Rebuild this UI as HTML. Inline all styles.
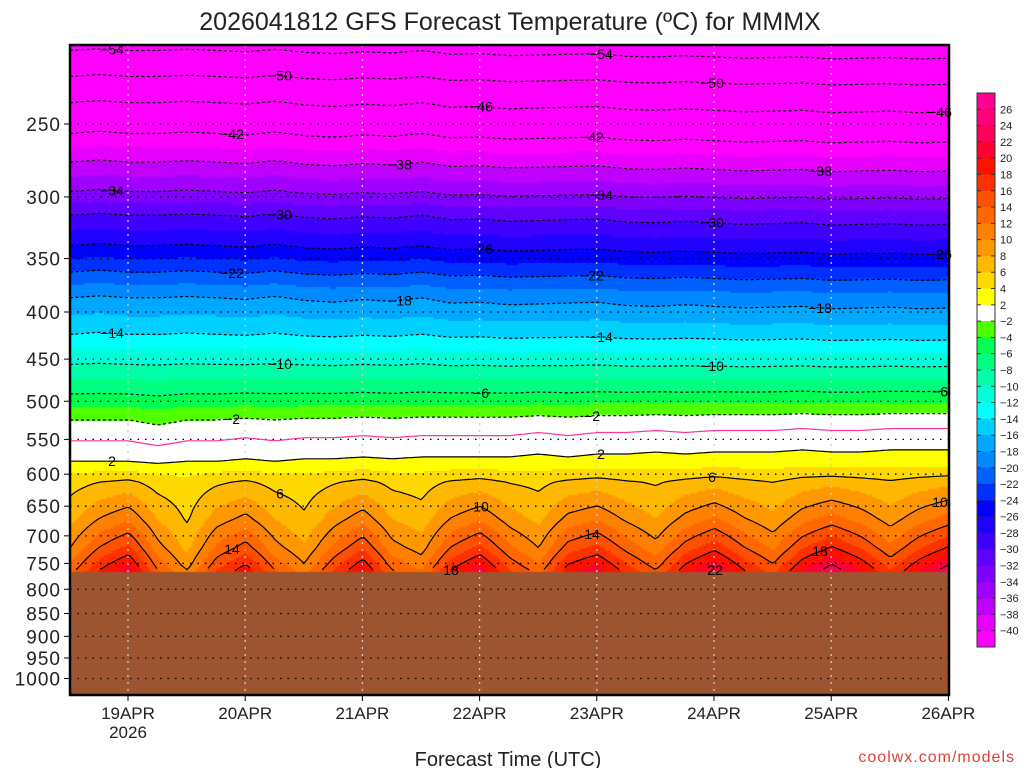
<!DOCTYPE html>
<html><head><meta charset="utf-8">
<style>
html,body{margin:0;padding:0;background:#fff;}
body{width:1024px;height:768px;position:relative;overflow:hidden;font-family:"Liberation Sans",sans-serif;}
#fill{position:absolute;left:0;top:0;}
#ov{position:absolute;left:0;top:0;}
</style></head>
<body>
<canvas id="fill" width="1024" height="768"></canvas>
<svg id="ov" width="1024" height="768" font-family="Liberation Sans, sans-serif">
<text x="510" y="30" font-size="25" text-anchor="middle" fill="#222">2026041812 GFS Forecast Temperature (ºC) for MMMX</text>
<g id="grid"></g>
<g id="cont"></g>
<g id="axes"></g>
<g id="cbar"></g>
<text x="508" y="766" font-size="20" text-anchor="middle" fill="#222">Forecast Time (UTC)</text>
<text x="1015" y="762" font-size="16" text-anchor="end" fill="#e0403a" letter-spacing="1">coolwx.com/models</text>
</svg>
<script>
// data
const pressureTicks=[250,300,350,400,450,500,550,600,650,700,750,800,850,900,950,1000];
const dayLabels=['19APR','20APR','21APR','22APR','23APR','24APR','25APR','26APR'];
const profileP=[200,208,222,237,256,275,296,314,339,362,386,423,456,491,524,552,581,612,670,720,762,790];
const profileT=[-57,-54,-50,-46,-42,-38,-34,-30,-26,-22,-18,-14,-10,-6,-2,0,2,6,10,14,18,20];
// 6-hourly from 18/12Z to 26/00Z
const lowOffset=[-5,0,3,-4,-8,-2,1,-4,-7,-2,2,-4,-6,0,3,-2,-5,1,3,-1,-4,1,4,0,-3,2,5,2,-2,2,5];
const midOffset=[0,0,0,-0.5,0,0,0.3,0,0.3,0.3,0.5,0.3,0.5,0.5,0.5,0.5,0.8,0.5,0.8,0.8,1,0.8,1,1,1,1.2,1,1,1.2,1.2,1.2];
const upperOffset=[0,0.3,0,0,0.2,0,-0.2,0.2,-0.3,-0.5,-0.2,-0.4,0,-0.6,-0.5,-0.8,-0.7,-0.6,-0.5,-0.9,-1,-0.8,-1,-1.2,-1.1,-1,-1.3,-1.2,-1.1,-1.3,-1.2];
const cbLabels=[26,24,22,20,18,16,14,12,10,8,6,4,2,-2,-4,-6,-8,-10,-12,-14,-16,-18,-20,-22,-24,-26,-28,-30,-32,-34,-36,-38,-40];
const cbColors=['#ff0090','#ff0078','#ff005a','#ff0030','#ff1000','#ff3000','#ff5000','#ff6800','#ff8000','#ff9800','#ffb800','#ffd800','#ffff00','#ffffff','#50ff00','#00ff50','#00ff80','#00ffa8','#00ffd8','#00ffff','#00d0ff','#00a8ff','#0088ff','#0060ff','#0030ff','#0000ff','#2000ff','#4000ff','#6000ff','#8000ff','#a000ff','#c000ff','#e800ff','#ff00ff'];
const contourLevels=[-54,-50,-46,-42,-38,-34,-30,-26,-22,-18,-14,-10,-6,-2,0,2,6,10,14,18,22];

const X0=70,X1=949,Y0=45,Y1=695,GROUND=572,DAYPX=117.2;
const NS='http://www.w3.org/2000/svg';
function yOfP(p){return 124+400*Math.log(p/250);}
function pOfY(y){return 250*Math.exp((y-124)/400);}
function xOfDay(i){return 128+i*DAYPX;}
function interpArr(a,t){t=Math.max(0,Math.min(a.length-1,t));const i=Math.floor(t),f=t-i;return i>=a.length-1?a[a.length-1]:a[i]*(1-f)+a[i+1]*f;}
function baseT(p){const lp=Math.log(p);
  for(let i=0;i<profileP.length-1;i++){const a=Math.log(profileP[i]),b=Math.log(profileP[i+1]);
    if(lp<=b||i==profileP.length-2){const f=(lp-a)/(b-a);return profileT[i]+f*(profileT[i+1]-profileT[i]);}}}
function temp(x,y){const t=(x-X0)/DAYPX*4;
  const wl=Math.max(0,Math.min(1,(y-465)/100));
  const wm=Math.exp(-Math.pow((y-435)/55,2));
  const wu=Math.max(0,Math.min(1,(420-y)/120));
  return baseT(pOfY(y))+interpArr(lowOffset,t)*wl+interpArr(midOffset,t)*wm+interpArr(upperOffset,t)*wu;}
function colorFor(T){
  if(T>=26)return cbColors[0];
  if(T>=-2&&T<2)return cbColors[13];
  if(T>=2){const k=Math.floor((26-T)/2);return cbColors[1+Math.min(11,k)];}
  const k=Math.floor((-2-T)/2);return cbColors[Math.min(33,14+k)];}
// fill
const ctx=document.getElementById('fill').getContext('2d');
for(let x=X0;x<X1;x+=2){for(let y=Y0;y<GROUND;y+=2){ctx.fillStyle=colorFor(temp(x+1,y+1));ctx.fillRect(x,y,2,2);}}
ctx.fillStyle='#9c5530';ctx.fillRect(X0,GROUND,X1-X0,Y1-GROUND);
function el(tag,attrs,parent){const e=document.createElementNS(NS,tag);for(const k in attrs)e.setAttribute(k,attrs[k]);parent.appendChild(e);return e;}
// grid
const grid=document.getElementById('grid');
pressureTicks.forEach(p=>{const y=yOfP(p);
  const l=el('line',{x1:X0,x2:X1,y1:y,y2:y,stroke:'#000','stroke-width':1.3,'stroke-dasharray':'1.5 6'},grid);
  
  });
dayLabels.forEach((d,i)=>{const x=xOfDay(i);
  const l=el('line',{x1:x,x2:x,y1:Y0,y2:Y1,stroke:'#ccc','stroke-width':1.3,'stroke-dasharray':'2 5'},grid);
  
  });
// contours
const cont=document.getElementById('cont');
const labelXs=[110,280,480,590,820];
contourLevels.forEach((lv,li)=>{
  let d='',pen=false;const pts=[];
  for(let x=X0;x<=X1;x+=3){let found=null,prev=temp(x,Y0);
    for(let y=Y0+1;y<GROUND;y++){const c=temp(x,y);if(prev<lv&&c>=lv){found=y-1+(lv-prev)/(c-prev);break;}prev=c;}
    if(found===null){pen=false;continue;}
    d+=(pen?'L':'M')+x+' '+found.toFixed(1);pen=true;pts.push([x,found]);}
  const col=lv===0?'#ff3399':'#000';
  const path=el('path',{d:d,fill:'none',stroke:col,'stroke-width':1.2,'stroke-dasharray':lv<0?'3 2.5':'none'},cont);
  
  
  if(lv===0)return;
  [labelXs[li%5],labelXs[(li+2)%5]+120].forEach(lx=>{
    const p=pts.find(q=>q[0]>=lx);if(!p)return;
    const t=el('text',{x:p[0],y:p[1]+5,'font-size':14,'text-anchor':'middle',fill:'#000'},cont);
    t.textContent=(lv<0?'−':'')+Math.abs(lv);
    
    });
});
// axes
const ax=document.getElementById('axes');
el('rect',{x:X0,y:Y0,width:X1-X0,height:Y1-Y0,fill:'none',stroke:'#000','stroke-width':2.5},ax);
pressureTicks.forEach(p=>{const y=yOfP(p);
  el('line',{x1:X0-6,x2:X0,y1:y,y2:y,stroke:'#000'},ax);
  const t=el('text',{x:61,y:y+7,'font-size':19,'text-anchor':'end',fill:'#222','letter-spacing':'1'},ax);
  t.textContent=p;
  
  });
dayLabels.forEach((d,i)=>{const x=xOfDay(i);
  el('line',{x1:x,x2:x,y1:Y1,y2:Y1+6,stroke:'#000'},ax);
  const t=el('text',{x:x,y:719,'font-size':17,'text-anchor':'middle',fill:'#222'},ax);
  t.textContent=d;
  
  });
const yr=el('text',{x:xOfDay(0),y:738,'font-size':17,'text-anchor':'middle',fill:'#222'},ax);
yr.textContent='2026';


// colorbar
const cb=document.getElementById('cbar');
const CB0=93,CBH=(647-93)/cbColors.length;
cbColors.forEach((c,i)=>{const r=el('rect',{x:977,y:CB0+i*CBH,width:18,height:CBH+0.5,fill:c},cb);
  
  });
el('rect',{x:977,y:CB0,width:18,height:647-CB0,fill:'none',stroke:'#333','stroke-width':1},cb);
cbLabels.forEach((v,i)=>{const y=CB0+(i+1)*CBH;
  el('line',{x1:977,x2:981,y1:y,y2:y,stroke:'#333'},cb);el('line',{x1:991,x2:995,y1:y,y2:y,stroke:'#333'},cb);
  const t=el('text',{x:1000,y:y+4,'font-size':11,fill:'#222'},cb);
  t.textContent=(v<0?'−':'')+Math.abs(v);
  
  });
</script>
</body></html>
